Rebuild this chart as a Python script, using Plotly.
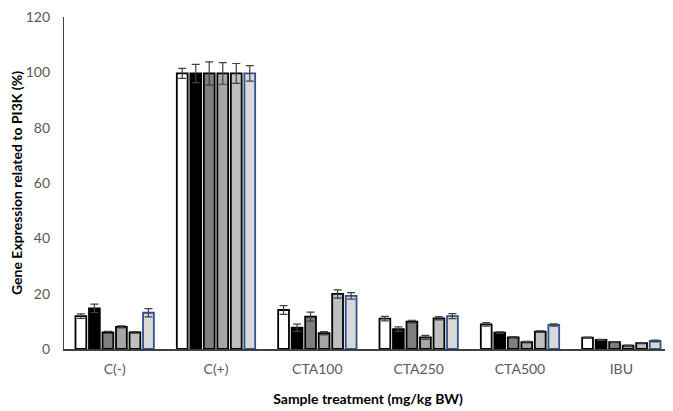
import plotly.graph_objects as go

categories = ["C(-)", "C(+)", "CTA100", "CTA250", "CTA500", "IBU"]

s1 = [11.9, 99.6, 14.1, 11.0, 8.9, 4.1]
s2 = [14.7, 99.6, 7.7, 7.2, 5.9, 3.3]
s3 = [6.0, 99.6, 11.7, 9.9, 4.2, 2.5]
s4 = [8.0, 99.6, 5.7, 4.2, 2.5, 1.2]
s5 = [6.0, 99.6, 19.9, 11.1, 6.3, 2.1]
s6 = [13.1, 99.6, 19.2, 11.9, 8.7, 2.9]

e1 = [0.8, 1.8, 1.6, 0.8, 0.6, 0.2]
e2 = [1.5, 3.3, 1.3, 0.8, 0.3, 0.2]
e3 = [0.4, 4.2, 1.6, 0.5, 0.3, 0.2]
e4 = [0.4, 3.9, 0.6, 0.7, 0.3, 0.2]
e5 = [0.3, 3.6, 1.5, 0.6, 0.3, 0.2]
e6 = [1.5, 2.8, 1.2, 0.9, 0.4, 0.3]

series = [s1, s2, s3, s4, s5, s6]
errors = [e1, e2, e3, e4, e5, e6]
fills = ["#ffffff", "#000000", "#7f7f7f", "#a6a6a6", "#bfbfbf", "#d9d9d9"]
borders = ["#000000", "#000000", "#000000", "#000000", "#000000", "#2f528f"]

fig = go.Figure()
for vals, errs, fc, bc in zip(series, errors, fills, borders):
    fig.add_trace(go.Bar(
        x=categories, y=vals,
        marker=dict(color=fc, line=dict(color=bc, width=1.8)),
        error_y=dict(type="data", array=errs, visible=True,
                     color="#404040", thickness=1.2, width=4),
        showlegend=False,
    ))

font_family = "Lato, 'Open Sans', sans-serif"
fig.update_layout(
    width=665, height=403,
    margin=dict(l=56, r=1, t=9, b=62),
    plot_bgcolor="white", paper_bgcolor="white",
    barmode="group", bargap=0.2, bargroupgap=0.2,
    font=dict(family=font_family, size=14, color="#595959"),
    xaxis=dict(
        automargin=False,
        showline=True, linecolor="#404040", linewidth=1.5,
        ticks="", showgrid=False, ticklabelstandoff=6,
        tickfont=dict(size=14, color="#595959"),
        title=dict(text="<b>Sample treatment (mg/kg BW)</b>",
                   font=dict(size=14, color="#000000"), standoff=19),
    ),
    yaxis=dict(
        automargin=False,
        range=[0, 120], dtick=20,
        showline=True, linecolor="#404040", linewidth=1.2,
        ticks="", showgrid=False, zeroline=False, ticklabelstandoff=10,
        ticklabeloverflow="allow",
        tickfont=dict(size=14, color="#595959"),
        title=dict(text="<b>Gene Expression related to PI3K (%)</b>",
                   font=dict(size=14, color="#000000"), standoff=1),
    ),
)

fig.write_html("out.html")
